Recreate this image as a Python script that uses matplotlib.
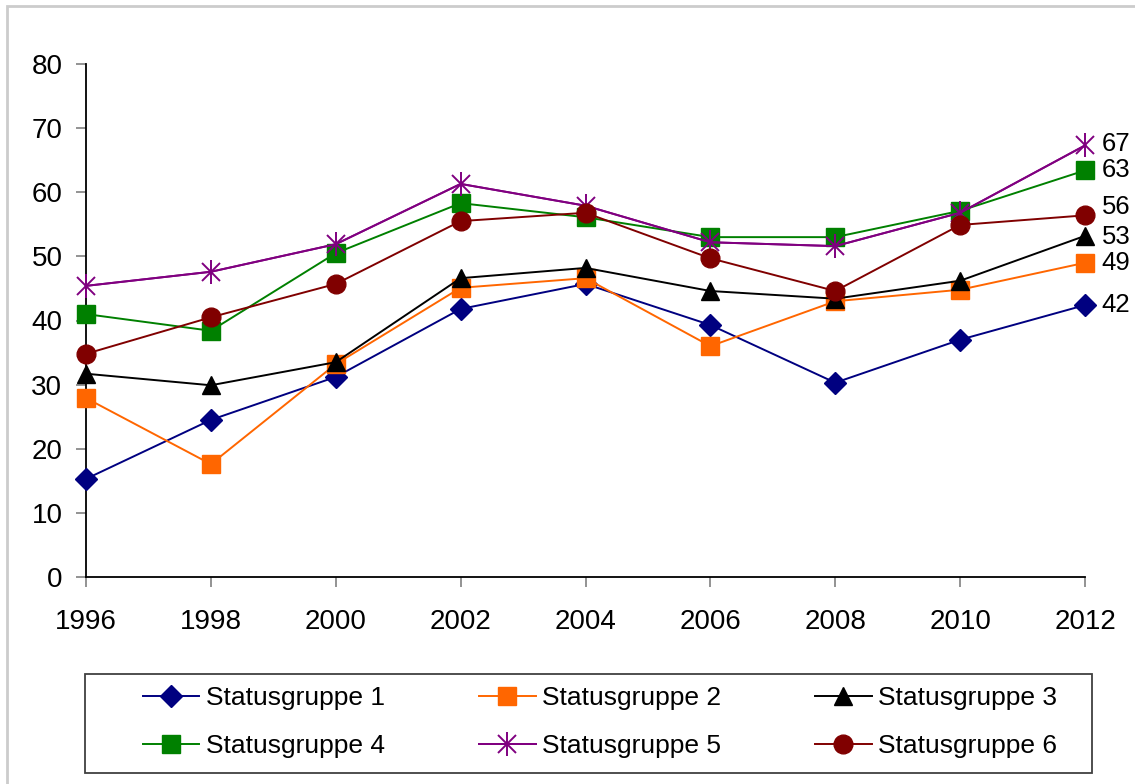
import matplotlib
matplotlib.use("Agg")
import matplotlib.pyplot as plt
from matplotlib.patches import Rectangle

plt.rcParams['font.family'] = ['Liberation Sans Narrow', 'Liberation Sans', 'DejaVu Sans']

years = [1996, 1998, 2000, 2002, 2004, 2006, 2008, 2010, 2012]

status_1 = [15.3, 24.5, 31.2, 41.8, 45.7, 39.3, 30.3, 37.0, 42.4]
status_2 = [27.9, 17.6, 33.2, 45.1, 46.6, 36.0, 43.0, 44.8, 49.0]
status_3 = [31.7, 29.9, 33.5, 46.6, 48.2, 44.6, 43.4, 46.2, 53.2]
status_4 = [41.0, 38.4, 50.5, 58.3, 56.1, 53.0, 53.0, 57.1, 63.4]
status_5 = [45.4, 47.6, 51.9, 61.3, 57.9, 52.2, 51.6, 56.8, 67.3]
status_6 = [34.8, 40.5, 45.7, 55.5, 56.8, 49.7, 44.6, 54.9, 56.4]

labels = ['Statusgruppe 1', 'Statusgruppe 2', 'Statusgruppe 3',
          'Statusgruppe 4', 'Statusgruppe 5', 'Statusgruppe 6']
series = [status_1, status_2, status_3, status_4, status_5, status_6]

# style per group: colour, marker, marker size
styles = [
    ('#000080', 'D', 11.5),
    ('#FF6600', 's', 12.5),
    ('#000000', '^', 13.5),
    ('#008000', 's', 12.5),
    ('#800080', 'x', 13),
    ('#800000', 'o', 13.5),
]
# vertical nudge (points) for end labels
label_dy = [0, 0, -1, 0, 1, 6]

fig = plt.figure(figsize=(11.35, 7.84), dpi=100)
ax = fig.add_axes([86 / 1135, 1 - 577 / 784, (1085 - 86) / 1135, (577 - 64) / 784])

handles = []
for vals, lab, (col, mk, ms), dy in zip(series, labels, styles, label_dy):
    if mk == 'x':
        # star = x plus a vertical bar
        hb, = ax.plot(years, vals, color=col, lw=1.4, marker='|', ms=ms + 4, mew=1.4,
                      zorder=3)
        hx, = ax.plot(years, vals, color=col, lw=1.4, marker='x', ms=ms, mew=1.4,
                      zorder=3)
        h = (hb, hx)
    else:
        h, = ax.plot(years, vals, color=col, lw=1.4, marker=mk, ms=ms,
                     mec=col, mfc=col, zorder=3)
    handles.append(h)
    ax.annotate(f"{vals[-1]:.0f}", (years[-1], vals[-1]), xytext=(12, dy),
                textcoords='offset points', va='center', ha='left',
                fontsize=18.5, annotation_clip=False)

ax.set_xlim(1996, 2012)
ax.set_ylim(0, 80)
ax.set_xticks(years)
ax.set_yticks(range(0, 81, 10))
for s in ['top', 'right']:
    ax.spines[s].set_visible(False)
for s in ['left', 'bottom']:
    ax.spines[s].set_linewidth(1.3)
ax.tick_params(axis='both', labelsize=20, length=7, width=1.2, color='#808080')
ax.tick_params(axis='y', pad=10)
ax.tick_params(axis='x', pad=16)
for ln in ax.lines:
    ln.set_clip_on(False)

# legend filled row by row (matplotlib fills by column)
order = [0, 3, 1, 4, 2, 5]
leg = fig.legend([handles[i] for i in order], [labels[i] for i in order],
                 ncol=3, loc='center',
                 bbox_to_anchor=(600 / 1135, 1 - 722 / 784),
                 fontsize=19, frameon=False, handlelength=2.15,
                 handletextpad=0.25, labelspacing=0.9, columnspacing=3.55,
                 borderaxespad=0)

# legend frame
fig.add_artist(Rectangle((85 / 1135, 1 - 773 / 784), (1092 - 85) / 1135, 99 / 784,
                         transform=fig.transFigure, fill=False, ec='#404040', lw=1.3))
# outer chart border
fig.add_artist(Rectangle((7 / 1135, -0.1), 1.2, 1.1 - 6 / 784, transform=fig.transFigure,
                         fill=False, ec='#cccccc', lw=2, clip_on=False))

fig.savefig('out.png', dpi=100)
